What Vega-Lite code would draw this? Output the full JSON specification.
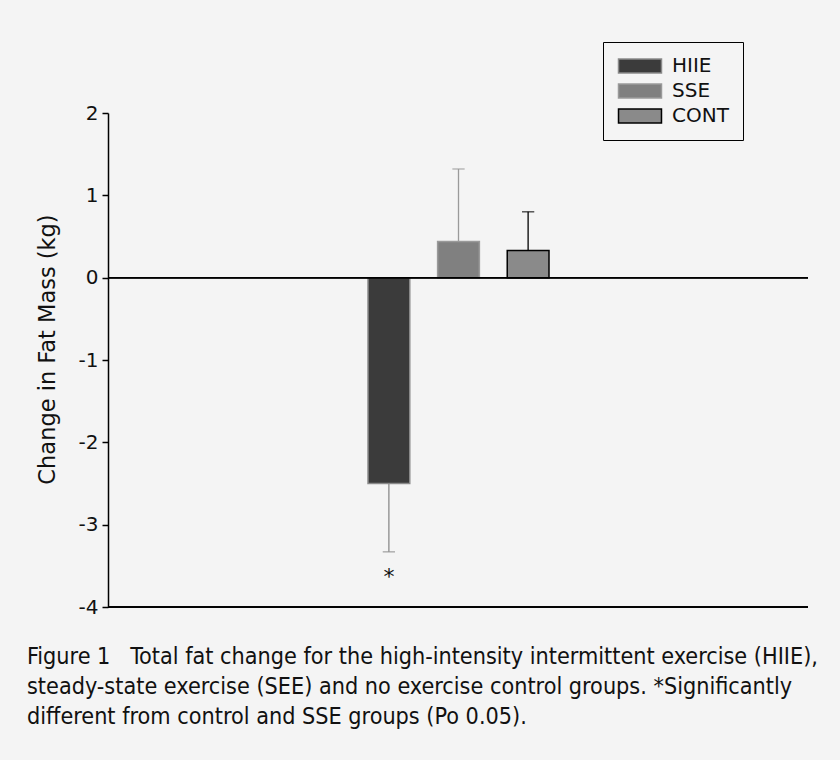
{
  "$schema": "https://vega.github.io/schema/vega-lite/v6.json",
  "width": 700,
  "height": 494,
  "autosize": "none",
  "padding": {"left": 108, "top": 113, "right": 32, "bottom": 153},
  "background": "#f4f4f4",
  "config": {
    "view": {"stroke": null},
    "font": "DejaVu Sans"
  },
  "title": {
    "text": [
      "Figure 1\u00a0\u00a0\u00a0Total fat change for the high-intensity intermittent exercise (HIIE),",
      "steady-state exercise (SEE) and no exercise control groups. *Significantly",
      "different from control and SSE groups (Po 0.05)."
    ],
    "orient": "bottom",
    "anchor": "start",
    "frame": "group",
    "dx": -81,
    "offset": 29,
    "font": "DejaVu Sans Condensed",
    "fontSize": 23.2,
    "fontWeight": "normal",
    "lineHeight": 30,
    "color": "#111111"
  },
  "data": {
    "values": [
      {"group": "HIIE", "change": -2.5, "errEnd": -3.33, "sig": "*"},
      {"group": "SSE", "change": 0.44, "errEnd": 1.32, "sig": ""},
      {"group": "CONT", "change": 0.33, "errEnd": 0.8, "sig": ""}
    ]
  },
  "encoding": {
    "x": {
      "field": "group",
      "type": "nominal",
      "sort": ["HIIE", "SSE", "CONT"],
      "scale": {"range": [260, 441], "paddingInner": 0.4, "paddingOuter": 0},
      "axis": null
    }
  },
  "layer": [
    {
      "mark": {"type": "rule", "stroke": "#000000", "strokeWidth": 1.5},
      "encoding": {"x": null, "y": {"datum": -4, "type": "quantitative"}}
    },
    {
      "mark": {"type": "rule", "strokeWidth": 1.3},
      "encoding": {
        "y": {"field": "change", "type": "quantitative"},
        "y2": {"field": "errEnd"},
        "stroke": {"field": "group", "type": "nominal"}
      }
    },
    {
      "mark": {"type": "tick", "size": 11, "thickness": 0.1, "filled": false, "strokeWidth": 1.3, "orient": "horizontal"},
      "encoding": {
        "y": {"field": "errEnd", "type": "quantitative"},
        "stroke": {"field": "group", "type": "nominal"}
      }
    },
    {
      "mark": {"type": "bar", "strokeWidth": 1.5},
      "encoding": {
        "y": {
          "field": "change",
          "type": "quantitative",
          "scale": {"domain": [-4, 2], "nice": false, "zero": false},
          "axis": {
            "title": "Change in Fat Mass (kg)",
            "titleFontSize": 22.5,
            "titleFontWeight": "normal",
            "titleColor": "#111111",
            "titlePadding": 19,
            "titleY": 236,
            "values": [-4, -3, -2, -1, 0, 1, 2],
            "labelExpr": "datum.value + ''",
            "labelFontSize": 20,
            "labelColor": "#111111",
            "labelPadding": 4,
            "tickSize": 6,
            "tickColor": "#000000",
            "domainColor": "#000000",
            "domainWidth": 1.5,
            "tickWidth": 1.5,
            "grid": false
          }
        },
        "y2": {"datum": 0},
        "fill": {
          "field": "group",
          "type": "nominal",
          "scale": {"domain": ["HIIE", "SSE", "CONT"], "range": ["#3b3b3b", "#808080", "#8a8a8a"]},
          "legend": {
            "title": null,
            "orient": "none",
            "legendX": 495,
            "legendY": -71,
            "strokeColor": "#000000",
            "padding": 14,
            "labelFontSize": 20,
            "labelColor": "#111111",
            "labelOffset": 22,
            "symbolOffset": 13,
            "rowPadding": 5,
            "symbolType": "M-3.07,-1H3.07V1H-3.07Z",
            "symbolSize": 196,
            "symbolOpacity": 1,
            "symbolStrokeWidth": 1.5,
            "encode": {
              "symbols": {"update": {"opacity": {"value": 1}, "fillOpacity": {"value": 1}, "strokeOpacity": {"value": 1}}}
            }
          }
        },
        "stroke": {
          "field": "group",
          "type": "nominal",
          "scale": {"domain": ["HIIE", "SSE", "CONT"], "range": ["#8a8a8a", "#9a9a9a", "#000000"]}
        }
      }
    },
    {
      "mark": {"type": "rule", "stroke": "#000000", "strokeWidth": 1.5},
      "encoding": {"x": null, "y": {"datum": 0, "type": "quantitative"}}
    },
    {
      "transform": [{"filter": "datum.sig != ''"}],
      "mark": {"type": "text", "fontSize": 22, "baseline": "top", "dy": 15, "color": "#111111"},
      "encoding": {
        "y": {"field": "errEnd", "type": "quantitative"},
        "text": {"field": "sig"}
      }
    }
  ]
}
